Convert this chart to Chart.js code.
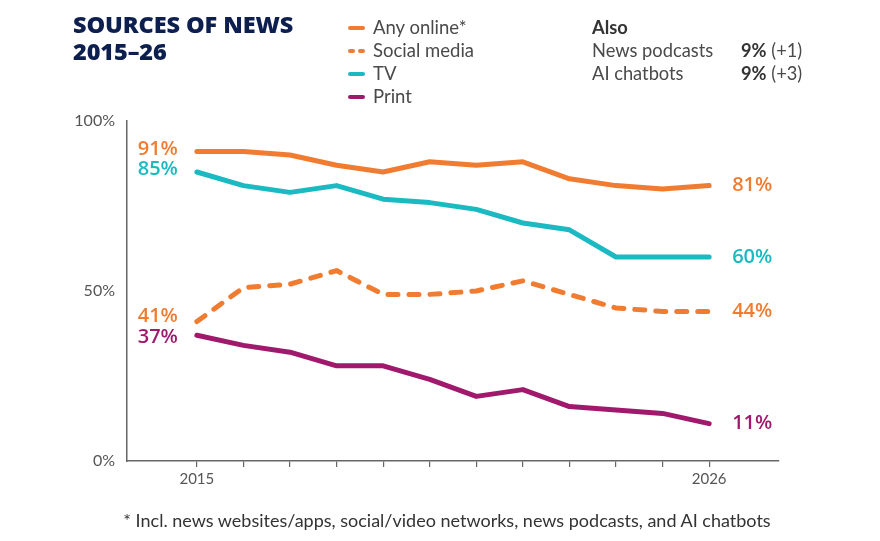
<!DOCTYPE html>
<html>
<head>
<meta charset="utf-8">
<script src="https://cdn.jsdelivr.net/npm/chart.js@4.4.1/dist/chart.umd.min.js"></script>
<style>
  html, body { margin: 0; padding: 0; background: #fff; }
  #wrap { position: relative; width: 880px; height: 541px; overflow: hidden; font-family: "Lato", "Open Sans", sans-serif; }
  #c { position: absolute; left: 0; top: 0; }
  .t { position: absolute; white-space: nowrap; }
  #title { left: 73px; top: 11px; font-family: "Open Sans", sans-serif; font-weight: 800; font-size: 23.5px; line-height: 27px; color: #0d1f4e; letter-spacing: -0.1px; }
  .leg { left: 348px; font-size: 18.5px; line-height: 23px; color: #4a4a4a; }
  .sw { display: inline-block; width: 17px; height: 4px; border-radius: 2px; vertical-align: middle; margin-right: 8px; position: relative; top: -1px; }
  .sw2 { display: inline-block; width: 17px; height: 4px; vertical-align: middle; margin-right: 8px; position: relative; top: -1px; }
  .sw2 i { position: absolute; top: 0; width: 7px; height: 4px; border-radius: 2px; }
  .also { font-size: 18.3px; line-height: 23px; color: #4a4a4a; }
  .also b { color: #333; }
  #foot { left: 0; width: 894px; text-align: center; top: 508px; font-size: 18px; line-height: 24px; color: #333; }
</style>
</head>
<body>
<div id="wrap">
  <canvas id="c" width="880" height="541"></canvas>
  <div id="title" class="t">SOURCES OF NEWS<br>2015–26</div>
  <div class="t leg" style="top:16px"><span class="sw" style="background:#f07c32"></span>Any online*</div>
  <div class="t leg" style="top:39px"><span class="sw2"><i style="left:0;background:#f07c32"></i><i style="left:10px;background:#f07c32"></i></span>Social media</div>
  <div class="t leg" style="top:62px"><span class="sw" style="background:#1bb9c1"></span>TV</div>
  <div class="t leg" style="top:85px"><span class="sw" style="background:#a1196c"></span>Print</div>
  <div class="t also" style="left:592px;top:16px"><b>Also</b></div>
  <div class="t also" style="left:592px;top:39px">News podcasts</div>
  <div class="t also" style="left:741px;top:39px"><b>9%</b> (+1)</div>
  <div class="t also" style="left:592px;top:62px">AI chatbots</div>
  <div class="t also" style="left:741px;top:62px"><b>9%</b> (+3)</div>
  <div id="foot" class="t">* Incl. news websites/apps, social/video networks, news podcasts, and AI chatbots</div>
</div>
<script>
const years = [2015, 2016, 2017, 2018, 2019, 2020, 2021, 2022, 2023, 2024, 2025, 2026];
const anyOnline = [91, 91, 90, 87, 85, 88, 87, 88, 83, 81, 80, 81];
const socialMedia = [41, 51, 52, 56, 49, 49, 50, 53, 49, 45, 44, 44];
const tv = [85, 81, 79, 81, 77, 76, 74, 70, 68, 60, 60, 60];
const print = [37, 34, 32, 28, 28, 24, 19, 21, 16, 15, 14, 11];
const yTicks = [0, 50, 100];
const xLabelYears = [2015, 2026];

const ORANGE = '#f07c32', TEAL = '#1bb9c1', MAGENTA = '#a1196c';

function pts(arr) { return arr.map((v, i) => ({ x: years[i], y: v })); }

const endLabels = {
  id: 'endLabels',
  afterDatasetsDraw(chart) {
    const ctx = chart.ctx;
    ctx.save();
    ctx.font = '600 20px "Open Sans", sans-serif';
    ctx.textBaseline = 'middle';
    const leftOff = [-2, -5, -3, 2];
    chart.data.datasets.forEach((ds, di) => {
      const meta = chart.getDatasetMeta(di);
      const first = meta.data[0], last = meta.data[meta.data.length - 1];
      ctx.fillStyle = ds.borderColor;
      ctx.textAlign = 'right';
      ctx.fillText(ds.data[0].y + '%', first.x - 19, first.y + leftOff[di]);
      ctx.textAlign = 'left';
      ctx.fillText(ds.data[ds.data.length - 1].y + '%', last.x + 23, last.y);
    });
    ctx.restore();
  }
};

new Chart(document.getElementById('c'), {
  type: 'line',
  data: {
    datasets: [
      { label: 'Any online*', data: pts(anyOnline), borderColor: ORANGE },
      { label: 'Social media', data: pts(socialMedia), borderColor: ORANGE, borderDash: [10, 11] },
      { label: 'TV', data: pts(tv), borderColor: TEAL },
      { label: 'Print', data: pts(print), borderColor: MAGENTA }
    ]
  },
  options: {
    responsive: false,
    animation: false,
    devicePixelRatio: 1,
    layout: { padding: { left: 0, right: 101, top: 121, bottom: 0 } },
    elements: {
      line: { borderWidth: 5, tension: 0, borderCapStyle: 'round', borderJoinStyle: 'round', fill: false },
      point: { radius: 0, hoverRadius: 0 }
    },
    plugins: { legend: { display: false }, tooltip: { enabled: false } },
    scales: {
      x: {
        type: 'linear', min: 2013.5, max: 2027.5,
        afterBuildTicks: s => { s.ticks = years.map(v => ({ value: v })); },
        afterFit: s => { s.height = 80; },
        ticks: {
          autoSkip: false, maxRotation: 0, padding: 3,
          color: '#555', font: { family: 'Lato', size: 15 },
          callback: v => xLabelYears.includes(v) ? String(v) : ''
        },
        grid: { drawOnChartArea: false, drawTicks: true, tickLength: 6, color: '#666', lineWidth: 1.2 },
        border: { display: true, color: '#666', width: 1.5 }
      },
      y: {
        min: 0, max: 100,
        afterBuildTicks: s => { s.ticks = yTicks.map(v => ({ value: v })); },
        afterFit: s => { s.width = 127; },
        ticks: { padding: 12, color: '#555', font: { family: 'Lato', size: 16 }, callback: v => v + '%' },
        grid: { drawOnChartArea: false, drawTicks: false },
        border: { display: true, color: '#666', width: 1.5 }
      }
    }
  },
  plugins: [endLabels]
});
</script>
</body>
</html>
